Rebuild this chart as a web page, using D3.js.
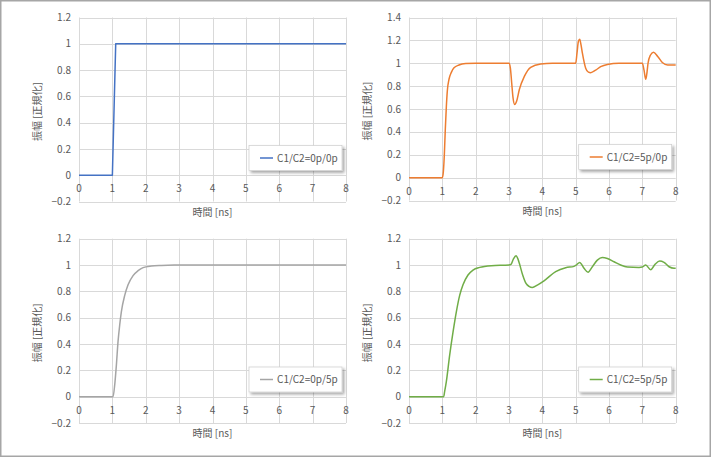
<!DOCTYPE html>
<html>
<head>
<meta charset="utf-8">
<script src="https://cdn.jsdelivr.net/npm/d3@7/dist/d3.min.js"></script>
<style>
  html, body { margin: 0; padding: 0; background: #fff; }
  svg { display: block; }
  text { font-family: "Noto Sans CJK JP", "Noto Sans", sans-serif; }
</style>
</head>
<body>
<svg id="chart" width="713" height="458"></svg>
<script>
// ---- data ----
const xTicks = [0, 1, 2, 3, 4, 5, 6, 7, 8];
const yTicks12 = [-0.2, 0, 0.2, 0.4, 0.6, 0.8, 1, 1.2];
const yTicks14 = [-0.2, 0, 0.2, 0.4, 0.6, 0.8, 1, 1.2, 1.4];
const xTitle = "時間 [ns]";
const yTitle = "振幅 [正規化]";

const seriesNames = ["C1/C2=0p/0p", "C1/C2=5p/0p", "C1/C2=0p/5p", "C1/C2=5p/5p"];
const seriesColors = ["#4472C4", "#ED7D31", "#A5A5A5", "#70AD47"];

const s00 = [[0,0],[1,0],[1.1,1],[8,1]];

const s50 = [[0,0],[1,0],[1.03,0.05],[1.06,0.2],[1.09,0.43],[1.12,0.62],[1.15,0.76],[1.2,0.86],
  [1.27,0.92],[1.35,0.96],[1.5,0.985],[1.7,0.997],[2,1],[3,1],[3.04,0.96],[3.08,0.83],[3.12,0.70],
  [3.17,0.64],[3.23,0.67],[3.31,0.77],[3.46,0.885],[3.65,0.965],[3.95,0.994],[4.3,1],[5,1],
  [5.04,1.09],[5.08,1.19],[5.12,1.21],[5.16,1.16],[5.2,1.09],[5.3,0.956],[5.38,0.922],[5.45,0.918],
  [5.6,0.94],[5.75,0.97],[5.95,0.99],[6.3,1],[7,1],[7.05,0.94],[7.1,0.86],[7.13,0.9],[7.17,1.0],
  [7.24,1.07],[7.33,1.097],[7.46,1.06],[7.6,1.006],[7.76,0.985],[8,0.985]];

const s05 = [[0,0],[1,0],[1.02,0],[1.07,0.09],[1.12,0.24],[1.17,0.42],[1.22,0.545],[1.27,0.646],
  [1.37,0.77],[1.47,0.85],[1.62,0.92],[1.77,0.957],[1.92,0.98],[2.17,0.992],[2.47,0.997],[2.85,1],[8,1]];

const s55 = [[0,0],[1,0],[1.04,0],[1.07,0.04],[1.12,0.114],[1.22,0.316],[1.32,0.49],[1.42,0.645],
  [1.52,0.77],[1.62,0.85],[1.77,0.924],[1.92,0.962],[2.12,0.982],[2.47,0.995],[3,1],[3.06,1.005],
  [3.13,1.045],[3.21,1.071],[3.27,1.045],[3.31,1.013],[3.41,0.924],[3.51,0.86],[3.6,0.838],[3.7,0.83],
  [3.85,0.848],[4.05,0.88],[4.4,0.95],[4.7,0.98],[4.95,0.99],[5.02,1.0],[5.12,1.02],[5.25,0.975],
  [5.37,0.945],[5.5,0.987],[5.65,1.037],[5.8,1.057],[5.95,1.05],[6.15,1.025],[6.35,1.0],[6.55,0.985],
  [6.9,0.982],[7.0,0.985],[7.1,1.0],[7.25,0.965],[7.38,1.005],[7.52,1.03],[7.65,1.02],[7.8,0.987],
  [7.95,0.975],[8,0.975]];

// ---- layout ----
const panels = [
  { data: s00, name: 0, yTicks: yTicks12, left: 79,  right: 346,   top: 17.5,  bottom: 201.5, smooth: false },
  { data: s50, name: 1, yTicks: yTicks14, left: 409, right: 675.7, top: 17.5,  bottom: 200.5, smooth: true },
  { data: s05, name: 2, yTicks: yTicks12, left: 79,  right: 346,   top: 238.7, bottom: 423,   smooth: true },
  { data: s55, name: 3, yTicks: yTicks12, left: 409, right: 675.7, top: 238.7, bottom: 423,   smooth: true }
];

const svg = d3.select("#chart");
const defs = svg.append("defs");
const f = defs.append("filter").attr("id", "shadow").attr("x", "-20%").attr("y", "-30%").attr("width", "150%").attr("height", "170%");
f.append("feDropShadow").attr("dx", 2).attr("dy", 2).attr("stdDeviation", 1.4)
  .attr("flood-color", "#000").attr("flood-opacity", 0.35);

// outer border
svg.append("rect").attr("x", 0.75).attr("y", 0.75).attr("width", 709.5).attr("height", 455.5)
  .attr("fill", "none").attr("stroke", "#a6a6a6").attr("stroke-width", 1.5);

const gridColor = "#d9d9d9";
const textColor = "#595959";

panels.forEach(p => {
  const yd = p.yTicks;
  const x = d3.scaleLinear().domain([xTicks[0], xTicks[xTicks.length - 1]]).range([p.left, p.right]);
  const y = d3.scaleLinear().domain([yd[0], yd[yd.length - 1]]).range([p.bottom, p.top]);
  const g = svg.append("g");

  // gridlines
  g.append("g").selectAll("line").data(yd).join("line")
    .attr("x1", p.left).attr("x2", p.right)
    .attr("y1", d => Math.round(y(d)) + 0.5).attr("y2", d => Math.round(y(d)) + 0.5)
    .attr("stroke", gridColor).attr("stroke-width", 1);
  g.append("g").selectAll("line").data(xTicks).join("line")
    .attr("x1", d => Math.round(x(d)) + 0.5).attr("x2", d => Math.round(x(d)) + 0.5)
    .attr("y1", p.top).attr("y2", p.bottom)
    .attr("stroke", gridColor).attr("stroke-width", 1);

  // y tick labels
  g.append("g").selectAll("text").data(yd).join("text")
    .attr("x", p.left - 8).attr("y", d => y(d)).attr("dy", "0.36em")
    .attr("text-anchor", "end").attr("font-size", 10).attr("fill", textColor)
    .text(d => d3.format("")(Math.round(d * 10) / 10));

  // x tick labels (axis crosses at 0)
  g.append("g").selectAll("text").data(xTicks).join("text")
    .attr("x", d => x(d)).attr("y", y(0) + 17)
    .attr("text-anchor", "middle").attr("font-size", 10).attr("fill", textColor)
    .text(d => d);

  // axis titles
  g.append("text").attr("x", (p.left + p.right) / 2).attr("y", p.bottom + 14)
    .attr("text-anchor", "middle").attr("font-size", 10).attr("fill", textColor).text(xTitle);
  const ty = (p.top + p.bottom) / 2 + 2;
  g.append("text").attr("transform", `translate(${p.left - 38},${ty}) rotate(-90)`)
    .attr("text-anchor", "middle").attr("font-size", 10).attr("fill", textColor).text(yTitle);

  // series line
  const line = d3.line().x(d => x(d[0])).y(d => y(d[1]))
    .curve(p.smooth ? d3.curveMonotoneX : d3.curveLinear);
  g.append("path").datum(p.data).attr("d", line)
    .attr("fill", "none").attr("stroke", seriesColors[p.name]).attr("stroke-width", 1.5)
    .attr("stroke-linejoin", "round");

  // legend
  const lw = 93, lh = 25;
  const lx = p.right - 4 - lw, ly = p.bottom - 31 - lh;
  const lg = g.append("g");
  lg.append("rect").attr("x", lx).attr("y", ly).attr("width", lw).attr("height", lh)
    .attr("fill", "#fff").attr("stroke", "#cfcfcf").attr("stroke-width", 0.75)
    .attr("filter", "url(#shadow)");
  lg.append("line").attr("x1", lx + 11).attr("x2", lx + 24)
    .attr("y1", ly + lh / 2).attr("y2", ly + lh / 2)
    .attr("stroke", seriesColors[p.name]).attr("stroke-width", 1.5);
  lg.append("text").attr("x", lx + 28).attr("y", ly + lh / 2).attr("dy", "0.36em")
    .attr("font-size", 10).attr("fill", textColor).text(seriesNames[p.name]);
});
</script>
</body>
</html>
